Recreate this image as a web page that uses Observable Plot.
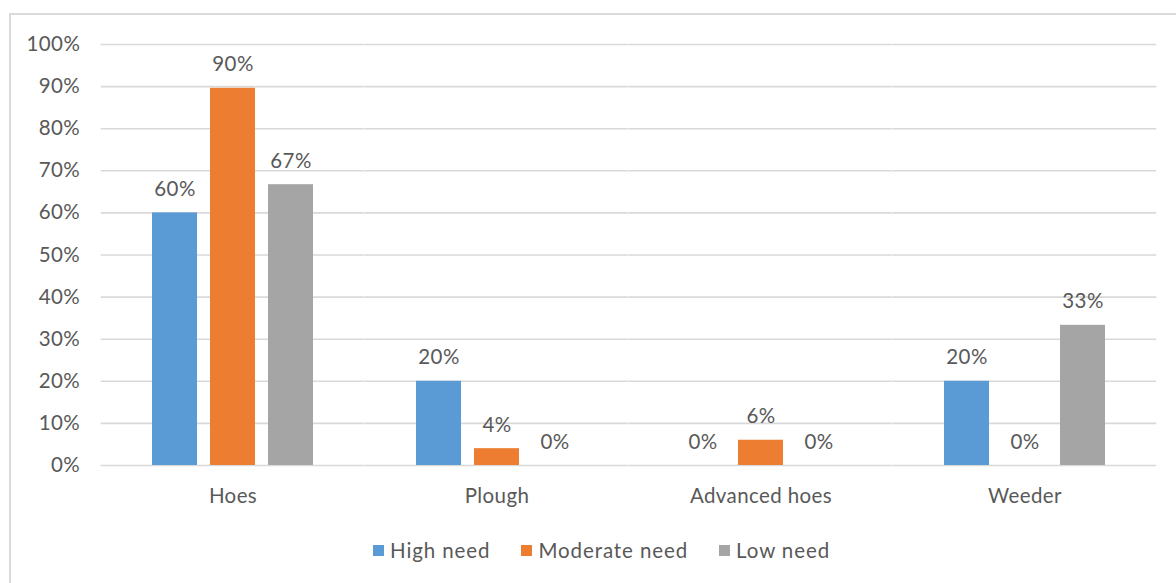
<!DOCTYPE html>
<html>
<head>
<meta charset="utf-8">
<script src="https://cdn.jsdelivr.net/npm/d3@7"></script>
<script src="https://cdn.jsdelivr.net/npm/@observablehq/plot@0.6"></script>
<style>
  html, body { margin: 0; padding: 0; background: #fff; }
  #wrap { position: relative; width: 1176px; height: 583px; overflow: hidden; font-family: Lato, "Open Sans", sans-serif; }
  #frame { position: absolute; left: 9px; top: 13px; width: 1300px; height: 700px; border-left: 2px solid #d9d9d9; border-top: 2px solid #d9d9d9; }
  #chart { position: absolute; left: 0; top: 0; }
  #legend { position: absolute; top: 538px; left: 373px; display: flex; align-items: center; font-size: 20.5px; color: #595959; letter-spacing: 0.9px; }
  .item { display: flex; align-items: center; margin-right: 31px; }
  .sw { width: 11px; height: 11px; margin-right: 6px; }
</style>
</head>
<body>
<div id="wrap">
  <div id="frame"></div>
  <div id="chart"></div>
  <div id="legend"></div>
</div>
<script>
const categories = ["Hoes", "Plough", "Advanced hoes", "Weeder"];
const seriesNames = ["High need", "Moderate need", "Low need"];
const highNeed = [60, 20, 0, 20];
const moderateNeed = [89.6, 4, 6, 0];
const lowNeed = [66.7, 0, 0, 33.3];
const yTicks = [0, 10, 20, 30, 40, 50, 60, 70, 80, 90, 100];
const colors = ["#5B9BD5", "#ED7D31", "#A5A5A5"];

const seriesValues = [highNeed, moderateNeed, lowNeed];
const data = [];
categories.forEach((c, i) => {
  seriesNames.forEach((s, j) => {
    data.push({category: c, series: s, value: seriesValues[j][i]});
  });
});

const textColor = "#595959";
const fs = 20.5;
const W = 1176, mL = 101, mR = 19;
const padIn = 0.381, padOut = padIn / 2;
const step = (W - mL - mR) / categories.length;
const halfGap = step * padIn / 2; // extend grid rules across the gaps between facets

const plot = Plot.plot({
  width: W,
  height: 520,
  marginTop: 44,
  marginBottom: 55,
  marginLeft: mL,
  marginRight: mR,
  style: {fontFamily: "Lato, 'Open Sans', sans-serif", fontSize: fs + "px", color: textColor, background: "transparent", letterSpacing: "0.4px"},
  fx: {domain: categories, paddingInner: padIn, paddingOuter: padOut, label: null},
  x: {domain: seriesNames, paddingInner: 0.224, paddingOuter: 0, axis: null},
  y: {domain: [0, 100], label: null},
  color: {domain: seriesNames, range: colors},
  marks: [
    Plot.ruleY(yTicks, {stroke: "#d9d9d9", strokeWidth: 1.6, insetLeft: -halfGap, insetRight: -halfGap}),
    Plot.axisY({ticks: yTicks, tickSize: 0, tickPadding: 21 + halfGap, tickFormat: d => d + "%", fontSize: fs, label: null, fill: textColor}),
    Plot.axisFx({anchor: "bottom", tickSize: 0, tickPadding: 23, fontSize: fs, label: null, fill: textColor}),
    Plot.barY(data, {fx: "category", x: "series", y: "value", fill: "series"}),
    Plot.text(data, {fx: "category", x: "series", y: "value", text: d => Math.round(d.value) + "%", lineAnchor: "bottom", dy: -17, fontSize: fs, fill: textColor})
  ]
});
document.getElementById("chart").appendChild(plot);

const legend = document.getElementById("legend");
seriesNames.forEach((s, j) => {
  const item = document.createElement("div");
  item.className = "item";
  const sw = document.createElement("div");
  sw.className = "sw";
  sw.style.background = colors[j];
  const t = document.createElement("span");
  t.textContent = s;
  item.appendChild(sw);
  item.appendChild(t);
  legend.appendChild(item);
});
</script>
</body>
</html>
